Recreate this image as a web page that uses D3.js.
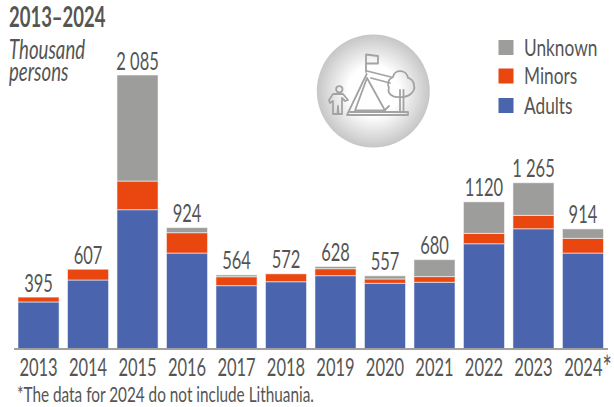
<!DOCTYPE html>
<html>
<head>
<meta charset="utf-8">
<script src="https://cdn.jsdelivr.net/npm/d3@7"></script>
<style>
  html, body { margin: 0; padding: 0; background: #fff; }
  text { font-family: Lato, "Noto Sans", sans-serif; fill: #555554; }
</style>
</head>
<body>
<svg id="viz" width="614" height="407"></svg>
<script>
const years = ["2013", "2014", "2015", "2016", "2017", "2018", "2019", "2020", "2021", "2022", "2023", "2024"];
const yearLabels = ["2013", "2014", "2015", "2016", "2017", "2018", "2019", "2020", "2021", "2022", "2023", "2024"];
const adults = [358, 525, 1060, 730, 482, 512, 558, 500, 508, 801, 915, 730];
const minors = [37, 82, 218, 155, 68, 60, 53, 33, 43, 79, 102, 112];
const unknown = [0, 0, 807, 39, 14, 0, 17, 24, 129, 240, 248, 72];
const totalLabels = ["395", "607", "2 085", "924", "564", "572", "628", "557", "680", "1120", "1 265", "914"];
const seriesNames = ["Adults", "Minors", "Unknown"];
const seriesColors = ["#4a64ad", "#ea4710", "#9d9d9c"];

const narrow = 0.66;
let svg = d3.select("#viz");

let x = d3.scaleBand().domain(years).range([18, 603.5]).paddingInner(0.17);
let y = d3.scaleLinear().domain([0, 2085]).range([349, 75]);

let rows = years.map((yr, i) => ({ year: yr, Adults: adults[i], Minors: minors[i], Unknown: unknown[i] }));
let stacked = d3.stack().keys(seriesNames)(rows);
let color = d3.scaleOrdinal().domain(seriesNames).range(seriesColors);

// condensed text, the font in the original is not installed
function label(txt, px, py, size, anchor, opts) {
    opts = opts || {};
    return svg.append("text")
        .attr("transform", `translate(${px},${py}) scale(${opts.sx || narrow},1)`)
        .attr("text-anchor", anchor)
        .attr("font-size", size)
        .attr("font-weight", opts.weight || 400)
        .attr("font-style", opts.style || "normal")
        .text(txt);
}

// bars
svg.append("g").selectAll("g")
    .data(stacked)
    .join("g")
    .attr("fill", d => color(d.key))
    .attr("stroke", "#fff")
    .attr("stroke-opacity", 0.55)
    .selectAll("rect")
    .data(d => d.filter(s => s[1] > s[0]))
    .join("rect")
    .attr("x", d => x(d.data.year))
    .attr("y", d => y(d[1]))
    .attr("width", x.bandwidth())
    .attr("height", d => y(d[0]) - y(d[1]));

// axis
let axis = d3.axisBottom(x).tickSize(0).tickPadding(9).tickFormat((d, i) => yearLabels[i]);
let axisG = svg.append("g").attr("transform", "translate(0,349)").call(axis);
axisG.select(".domain").remove();
axisG.selectAll("text")
    .attr("font-size", 25)
    .attr("font-family", "Lato")
    .attr("transform", (d, i) => `translate(${i == 11 ? 5 : 0},0) scale(${narrow},1)`);
// bigger asterisk on the last year
axisG.selectAll("text").filter((d, i) => i == 11)
    .append("tspan").attr("font-size", 33).attr("dy", 3).text("*");
svg.append("line").attr("x1", 14).attr("x2", 608).attr("y1", 349).attr("y2", 349)
    .attr("stroke", "#a0a0a0").attr("stroke-width", 2);

// totals
years.forEach((yr, i) => {
    label(totalLabels[i], x(yr) + x.bandwidth() / 2, y(adults[i] + minors[i] + unknown[i]) - 5.5, 25, "middle");
});

// title and unit
label("2013\u20132024", 9, 26.5, 28, "start", { weight: 700, sx: 0.66 });
let unit = label("Thousand", 9, 59, 27, "start", { style: "italic", sx: 0.69 });
unit.append("tspan").attr("x", 0).attr("dy", 21.5).text("persons");

// legend, top to bottom
let legendY = [105.5, 76, 47.5];
seriesNames.forEach((name, i) => {
    svg.append("rect").attr("x", 498.5).attr("y", legendY[i] - 7.5).attr("width", 15).attr("height", 15)
        .attr("fill", seriesColors[i]);
    label(name, 524, legendY[i] + 8, 23.5, "start", { sx: 0.735 });
});

// footnote
label("*The data for 2024 do not include Lithuania.", 17, 401.5, 20.5, "start", { sx: 0.748 });

// icon
let defs = svg.append("defs");
let grad = defs.append("radialGradient").attr("id", "disc");
grad.append("stop").attr("offset", "0.45").attr("stop-color", "#ffffff");
grad.append("stop").attr("offset", "1").attr("stop-color", "#c6c6c6");
let icon = svg.append("g").attr("transform", "translate(300,0)");
icon.append("circle").attr("cx", 73.3).attr("cy", 91).attr("r", 56.5).attr("fill", "url(#disc)");
let line = icon.append("g").attr("fill", "none").attr("stroke", "#a3a3a2").attr("stroke-width", 1.8)
    .attr("stroke-linejoin", "round").attr("stroke-linecap", "round");
// person
line.append("circle").attr("cx", 39.3).attr("cy", 89.3).attr("r", 3.2);
line.append("path").attr("d", "M33,94 L43,94 L48,100 L45,101 L42,98 L42,114 L38.5,114 L38,106 L37.5,114 L33,114 L33,101 L30,103 L29,100 Z");
// flag
line.append("path").attr("d", "M66,72 L66,54.5 L78,56 L78,63.5 L66,63.5");
// tent
line.append("path").attr("d", "M66.7,74 L47,115 L108,115 L108,112 L50,112");
line.append("path").attr("d", "M67,78 L55,110.5 L85,110.5 L67,78");
line.append("path").attr("d", "M67,71 L91,77 M71,78 L90,83");
line.append("path").attr("d", "M85,110 L89,106");
// tree
line.append("path").attr("d", "M100,97 C108,98 116,92 114,85 C114,80 109,78 108,78 C107,70 95,68 93,77 C88,79 87,84 89,88 C87,93 92,98 100,97 Z");
line.append("path").attr("d", "M100,90 L100,111 M103.5,90 L103.5,111");
</script>
</body>
</html>
